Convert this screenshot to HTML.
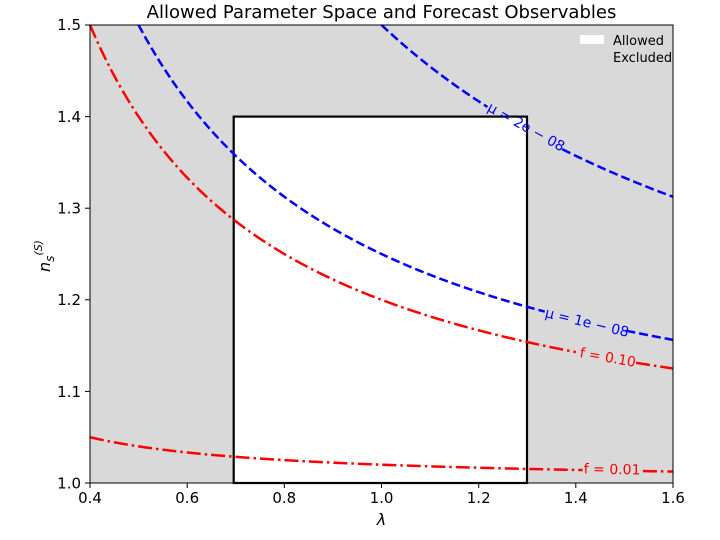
<!DOCTYPE html>
<html><head><meta charset="utf-8"><style>
html,body{margin:0;padding:0;background:#fff;}
svg{display:block;font-family:"DejaVu Sans","Liberation Sans",sans-serif;}
</style></head><body>
<svg id="s" width="720" height="540" xmlns="http://www.w3.org/2000/svg">
<rect x="90" y="25" width="583" height="458" fill="#d9d9d9"/>
<rect x="233.7" y="116.6" width="293.3" height="366.4" fill="#fff" stroke="#000" stroke-width="2.2"/>
<g id="curves"></g>
<rect x="90" y="25" width="583" height="458" fill="none" stroke="#000" stroke-width="1"/>
<g font-size="14" fill="#0000ff">
<text transform="translate(524,131) rotate(29)" text-anchor="middle">μ = 2e − 08</text>
<text transform="translate(586,327) rotate(13.5)" text-anchor="middle">μ = 1e − 08</text>
</g>
<g font-size="14" fill="#ff0000">
<text transform="translate(607,362) rotate(10)" text-anchor="middle">f = 0.10</text>
<text transform="translate(612,474) rotate(1)" text-anchor="middle">f = 0.01</text>
</g>
<g font-size="15" fill="#000" text-anchor="middle">
<text x="90" y="503">0.4</text><text x="187.2" y="503">0.6</text><text x="284.3" y="503">0.8</text>
<text x="381.5" y="503">1.0</text><text x="478.7" y="503">1.2</text><text x="575.8" y="503">1.4</text><text x="673" y="503">1.6</text>
</g>
<g stroke="#000" stroke-width="1">
<line x1="90" y1="483" x2="90" y2="488"/><line x1="187.2" y1="483" x2="187.2" y2="488"/><line x1="284.3" y1="483" x2="284.3" y2="488"/>
<line x1="381.5" y1="483" x2="381.5" y2="488"/><line x1="478.7" y1="483" x2="478.7" y2="488"/><line x1="575.8" y1="483" x2="575.8" y2="488"/><line x1="673" y1="483" x2="673" y2="488"/>
<line x1="85" y1="25" x2="90" y2="25"/><line x1="85" y1="116.6" x2="90" y2="116.6"/><line x1="85" y1="208.2" x2="90" y2="208.2"/>
<line x1="85" y1="299.8" x2="90" y2="299.8"/><line x1="85" y1="391.4" x2="90" y2="391.4"/><line x1="85" y1="483" x2="90" y2="483"/>
</g>
<g font-size="15" fill="#000" text-anchor="end">
<text x="81" y="30">1.5</text><text x="81" y="122">1.4</text><text x="81" y="213.5">1.3</text>
<text x="81" y="305">1.2</text><text x="81" y="397">1.1</text><text x="81" y="488.5">1.0</text>
</g>
<text x="381.5" y="525" font-size="16" font-style="italic" text-anchor="middle">λ</text>
<text transform="translate(50,256) rotate(-90)" font-size="16" text-anchor="middle"><tspan font-style="italic">n</tspan><tspan font-size="12" dy="4" font-style="italic">s</tspan><tspan font-size="11" dy="-12" font-style="italic">(S)</tspan></text>
<text x="381.5" y="18" font-size="18" text-anchor="middle">Allowed Parameter Space and Forecast Observables</text>
<rect x="580" y="35" width="24" height="9" fill="#fff"/>
<text x="613" y="45" font-size="13">Allowed</text>
<text x="613" y="62" font-size="13">Excluded</text>
</svg>
<script>
var g=document.getElementById('curves');
function X(l){return 90+(l-0.4)*583/1.2;}
function Y(n){return 483-(n-1)*916;}
function curve(c,col,dash,gap){
  var segs=[[]];
  for(var i=0;i<=600;i++){
    var l=0.4+1.2*i/600, n=1+c/l;
    if(n>1.5){continue;}
    var x=X(l),y=Y(n);
    if(x>gap[0]&&x<gap[1]){if(segs[segs.length-1].length)segs.push([]);continue;}
    segs[segs.length-1].push(x.toFixed(2)+','+y.toFixed(2));
  }
  segs.forEach(function(s){if(s.length<2)return;
    var p=document.createElementNS('http://www.w3.org/2000/svg','polyline');
    p.setAttribute('points',s.join(' '));p.setAttribute('fill','none');
    p.setAttribute('stroke',col);p.setAttribute('stroke-width','2.5');
    p.setAttribute('stroke-dasharray',dash);g.appendChild(p);});
}
curve(0.5,'#0000ff','9,4',[488,562]);
curve(0.25,'#0000ff','9,4',[545,626]);
curve(0.2,'#ff0000','14,4,2.5,4',[576,636]);
curve(0.02,'#ff0000','14,4,2.5,4',[583,642]);
</script>
</body></html>
